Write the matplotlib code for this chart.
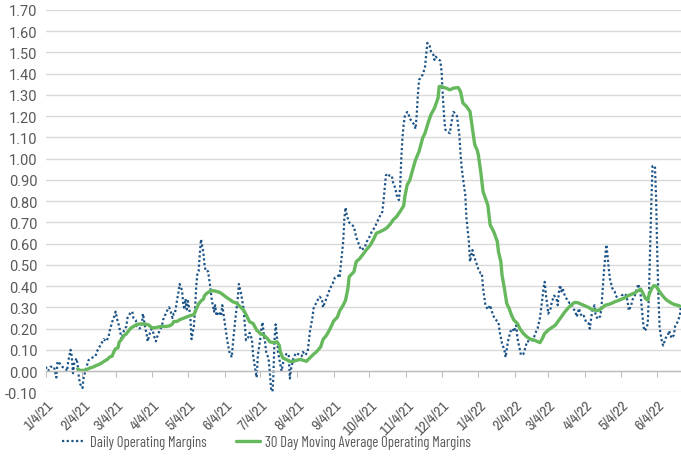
import numpy as np
import pandas as pd
import matplotlib
matplotlib.use("Agg")
import matplotlib.pyplot as plt

# series start (first trading day on the chart)
start = pd.Timestamp("2021-01-04")

# Daily operating margins: day offset from start, value
daily_day = [0, 2, 4, 7, 9, 10, 12, 14, 17, 18,
             19, 21, 22, 23, 24, 26, 27, 28, 29, 31,
             32, 34, 36, 38, 42, 43, 46, 49, 51, 53,
             54, 56, 58, 59, 60, 62, 63, 64, 66, 68,
             69, 71, 73, 74, 76, 77, 79, 81, 82, 83,
             84, 85, 86, 88, 90, 91, 93, 94, 96, 98,
             99, 102, 104, 105, 107, 108, 109, 111, 112, 113,
             115, 116, 117, 118, 119, 120, 122, 123, 125, 126,
             127, 128, 129, 130, 131, 133, 134, 135, 137, 139,
             140, 142, 143, 144, 146, 148, 149, 151, 153, 155,
             157, 158, 160, 162, 163,
             165, 167, 168, 169, 171, 172, 174, 175, 177, 178,
             179, 181, 182, 183, 184, 185, 186, 188, 189, 190,
             191, 192, 193, 194, 195, 196, 198, 199, 201, 203,
             205, 206, 207, 209, 211, 213, 216, 217, 219, 221,
             222, 223, 225, 226, 229, 231, 233, 234, 236, 238,
             240, 242, 244, 247, 248, 249, 251, 252, 253, 254,
             256, 258, 260, 262, 265, 266, 269, 271, 273, 275,
             278, 279, 282, 284, 285,
             286, 287, 288, 290, 292, 293, 295, 296, 298, 299,
             300, 301, 302, 303, 305, 306, 307, 309, 311, 312,
             313, 314, 315, 316, 318, 320, 321, 322, 324, 325,
             327, 328, 329, 331, 333, 334, 335, 336, 337, 338,
             341, 342, 344, 345, 347, 349, 350, 351, 352, 354,
             355, 357, 358, 359, 360, 361, 363, 365, 367, 368,
             369, 371, 373, 375, 377, 379, 382, 383, 385, 387,
             388, 390, 392, 394, 395, 397, 398, 400, 401, 403,
             405, 406, 408, 410, 412, 414, 415, 417, 418, 419,
             420, 421, 422, 423, 424, 426, 427, 429, 431, 432,
             433, 434, 435, 436, 438, 440, 442, 443, 445, 447,
             448, 450, 451, 453, 454, 456, 458, 459, 461, 463,
             464, 466, 468, 469, 470, 471, 472, 473, 474, 475,
             476, 478, 480, 481, 483, 485, 486, 488, 490, 491,
             492, 494, 495, 497, 499, 500, 502, 503, 504, 505,
             507, 508, 509, 510, 511, 512, 514, 515, 516, 517,
             518, 520, 521, 523, 525, 526, 528, 530, 531, 533,
             535, 536]
daily_val = [0.02, 0.00, 0.02, 0.02, -0.03, 0.045, 0.035, 0.02, 0.01, 0.00,
             0.045, 0.10, 0.07, -0.01, 0.035, 0.06, 0.03, -0.03, -0.06, -0.08,
             -0.03, 0.01, 0.05, 0.06, 0.07, 0.09, 0.12, 0.15, 0.14, 0.16,
             0.19, 0.23, 0.26, 0.28, 0.25, 0.21, 0.18, 0.15, 0.19, 0.21,
             0.25, 0.27, 0.28, 0.25, 0.24, 0.21, 0.20, 0.21, 0.27, 0.24,
             0.20, 0.18, 0.14, 0.18, 0.21, 0.17, 0.14, 0.16, 0.19, 0.21,
             0.24, 0.28, 0.30, 0.29, 0.25, 0.27, 0.27, 0.34, 0.37, 0.41,
             0.38, 0.32, 0.29, 0.34, 0.29, 0.33, 0.26, 0.15, 0.21, 0.29,
             0.40, 0.46, 0.47, 0.55, 0.62, 0.56, 0.50, 0.47, 0.47, 0.39,
             0.34, 0.28, 0.31, 0.26, 0.28, 0.26, 0.31, 0.23, 0.15, 0.09,
             0.065, 0.135, 0.245, 0.34, 0.41,
             0.36, 0.29, 0.22, 0.145, 0.16, 0.18, 0.15, 0.075, 0.00, -0.03,
             0.075, 0.15, 0.20, 0.23, 0.17, 0.14, 0.09, 0.06, 0.00, -0.075,
             -0.13, -0.035, 0.14, 0.22, 0.17, 0.09, 0.03, 0.00, 0.06, 0.08,
             0.08, -0.035, 0.01, 0.06, 0.085, 0.08, 0.07, 0.09, 0.075, 0.09,
             0.14, 0.19, 0.25, 0.295, 0.33, 0.35, 0.34, 0.30, 0.33, 0.36,
             0.39, 0.41, 0.44, 0.45, 0.44, 0.50, 0.61, 0.72, 0.77, 0.735,
             0.70, 0.69, 0.68, 0.63, 0.585, 0.57, 0.58, 0.61, 0.63, 0.655,
             0.68, 0.695, 0.73, 0.75, 0.80,
             0.86, 0.92, 0.93, 0.92, 0.92, 0.89, 0.86, 0.83, 0.805, 0.86,
             1.00, 1.10, 1.16, 1.20, 1.22, 1.215, 1.19, 1.175, 1.16, 1.14,
             1.205, 1.30, 1.37, 1.38, 1.395, 1.43, 1.49, 1.545, 1.53, 1.505,
             1.49, 1.465, 1.48, 1.47, 1.46, 1.41, 1.30, 1.21, 1.14, 1.13,
             1.12, 1.16, 1.22, 1.215, 1.20, 1.11, 1.02, 0.955, 0.91, 0.83,
             0.72, 0.61, 0.515, 0.545, 0.57, 0.545, 0.515, 0.48, 0.46, 0.46,
             0.39, 0.31, 0.29, 0.31, 0.27, 0.245, 0.23, 0.185, 0.13, 0.10,
             0.065, 0.14, 0.185, 0.20, 0.185, 0.215, 0.155, 0.10, 0.075, 0.08,
             0.115, 0.14, 0.14, 0.14, 0.16, 0.19, 0.20, 0.25, 0.295, 0.34,
             0.39, 0.42, 0.36, 0.32, 0.27, 0.295, 0.325, 0.355, 0.34, 0.31,
             0.375, 0.405, 0.375, 0.39, 0.355, 0.335, 0.32, 0.32, 0.295, 0.28,
             0.255, 0.295, 0.27, 0.255, 0.26, 0.23, 0.225, 0.20, 0.28, 0.31,
             0.26, 0.245, 0.26, 0.31, 0.39, 0.47, 0.53, 0.595, 0.545, 0.485,
             0.435, 0.39, 0.375, 0.355, 0.34, 0.325, 0.355, 0.365, 0.355, 0.325,
             0.285, 0.31, 0.335, 0.355, 0.39, 0.41, 0.355, 0.295, 0.23, 0.19,
             0.20, 0.23, 0.375, 0.58, 0.80, 0.965, 0.965, 0.815, 0.545, 0.34,
             0.20, 0.135, 0.12, 0.155, 0.17, 0.19, 0.155, 0.17, 0.21, 0.23,
             0.26, 0.31]

# 30 day moving average
ma_day = [27, 29, 32, 35, 37, 40, 43, 46, 49, 52,
          54, 56, 58, 59, 61, 62, 64, 66, 68, 70,
          72, 74, 77, 80, 82, 85, 87, 89, 91, 94,
          97, 99, 102, 105, 107, 108, 111, 113, 116, 119,
          122, 125, 126, 127, 129, 131, 133, 134, 136, 138,
          139, 142, 144, 147, 150, 153, 156, 158, 161, 164,
          167, 170, 172, 175, 178, 181, 184, 187, 189, 192,
          195, 197, 198, 200, 203, 206, 209, 212, 215, 217,
          220, 223, 226, 229, 232, 234, 237, 240, 243, 246,
          248, 251, 253, 255, 256, 260, 262, 265, 268, 271,
          274, 277, 279, 282, 285, 288, 291, 293, 296, 299,
          302, 303, 305, 307, 310, 312, 315, 318, 320, 323,
          325, 328, 331, 332, 334, 336, 338, 341, 344, 348,
          350, 352, 355, 358, 360, 362, 364, 365, 367, 369,
          371, 373, 375, 378, 381, 382, 384, 385, 387, 389,
          391, 393, 395, 398, 400, 403, 406, 409, 412, 414,
          417, 419, 421, 424, 427, 430, 432, 435, 438, 441,
          444, 446, 449, 452, 455, 458, 460, 463, 466, 469,
          472, 475, 477, 480, 483, 486, 489, 491, 494, 497,
          499, 502, 504, 506, 508, 509, 511, 513, 515, 517,
          520, 522, 524, 527, 530, 533, 535]
ma_val = [0.01, 0.003, 0.003, 0.008, 0.014, 0.019, 0.027, 0.034, 0.045, 0.055,
          0.066, 0.07, 0.097, 0.105, 0.11, 0.136, 0.15, 0.167, 0.175, 0.19,
          0.203, 0.21, 0.22, 0.222, 0.222, 0.22, 0.217, 0.206, 0.203, 0.206,
          0.21, 0.21, 0.21, 0.214, 0.222, 0.233, 0.234, 0.242, 0.248, 0.255,
          0.261, 0.266, 0.277, 0.292, 0.316, 0.33, 0.339, 0.355, 0.367, 0.373,
          0.378, 0.378, 0.375, 0.37, 0.358, 0.345, 0.334, 0.326, 0.32, 0.303,
          0.287, 0.255, 0.232, 0.224, 0.193, 0.177, 0.169, 0.153, 0.138, 0.134,
          0.138, 0.122, 0.09, 0.062, 0.054, 0.045, 0.046, 0.051, 0.055, 0.051,
          0.046, 0.063, 0.079, 0.094, 0.114, 0.149, 0.169, 0.2, 0.236, 0.253,
          0.283, 0.31, 0.334, 0.39, 0.444, 0.467, 0.515, 0.53, 0.552, 0.574,
          0.594, 0.625, 0.649, 0.656, 0.664, 0.675, 0.694, 0.711, 0.727, 0.751,
          0.778, 0.822, 0.877, 0.896, 0.955, 0.994, 1.034, 1.097, 1.12, 1.175,
          1.207, 1.238, 1.285, 1.34, 1.34, 1.335, 1.332, 1.324, 1.332, 1.335,
          1.316, 1.262, 1.246, 1.222, 1.144, 1.065, 1.041, 1.018, 0.94, 0.845,
          0.814, 0.782, 0.688, 0.656, 0.61, 0.562, 0.515, 0.452, 0.389, 0.318,
          0.295, 0.263, 0.24, 0.224, 0.2, 0.177, 0.161, 0.15, 0.146, 0.141,
          0.134, 0.153, 0.177, 0.193, 0.205, 0.216, 0.232, 0.255, 0.279, 0.298,
          0.314, 0.323, 0.322, 0.314, 0.307, 0.3, 0.292, 0.287, 0.285, 0.295,
          0.31, 0.314, 0.318, 0.326, 0.332, 0.339, 0.346, 0.354, 0.361, 0.368,
          0.376, 0.386, 0.365, 0.342, 0.334, 0.358, 0.386, 0.402, 0.4, 0.381,
          0.358, 0.345, 0.334, 0.323, 0.314, 0.31, 0.306]

tick_labels = ["1/4/21", "2/4/21", "3/4/21", "4/4/21", "5/4/21", "6/4/21",
               "7/4/21", "8/4/21", "9/4/21", "10/4/21", "11/4/21", "12/4/21",
               "1/4/22", "2/4/22", "3/4/22", "4/4/22", "5/4/22", "6/4/22"]
y_ticks = np.round(np.arange(-1, 18) / 10, 2)

series_names = ["Daily Operating Margins",
                "30 Day Moving Average Operating Margins"]

daily_dates = start + pd.to_timedelta(daily_day, unit="D")
ma_dates = start + pd.to_timedelta(ma_day, unit="D")
tick_dates = pd.to_datetime(tick_labels, format="%m/%d/%y")

# digits are wide in the original, letters condensed
plt.rcParams['font.family'] = ['Roboto', 'DejaVu Sans']
narrow = ['Archivo Narrow', 'DejaVu Sans']
legend_font = {'family': ['Barlow Condensed', 'DejaVu Sans'], 'size': 10.5}
txt_color = '#595959'

fig = plt.figure(figsize=(6.81, 4.60), dpi=100)
ax = fig.add_axes([45.7 / 681, 1 - 393.3 / 460, 1 - 45.7 / 681, (393.3 - 11) / 460])

# axis line sits at zero, set it before the tick labels (it resets ticks)
for s in ['left', 'right', 'top']:
    ax.spines[s].set_visible(False)
ax.spines['bottom'].set_position(('data', 0))
ax.spines['bottom'].set_color('#bfbfbf')
ax.spines['bottom'].set_linewidth(1)

l1, = ax.plot(daily_dates, daily_val, color='#1d5487', lw=1.6,
              linestyle=(0, (1, 1.1)), label=series_names[0])
l2, = ax.plot(ma_dates, ma_val, color='#66b85c', lw=2.4,
              solid_capstyle='round', label=series_names[1])

ax.set_ylim(-0.1, 1.7)
ax.set_yticks(y_ticks)
ax.set_yticklabels([f"{v:.2f}" for v in y_ticks], fontsize=10.5, color=txt_color)
ax.set_xlim(start, daily_dates[-1])
ax.set_xticks(tick_dates)
ax.set_xticklabels(tick_labels, rotation=45, ha='right', rotation_mode='anchor',
                   fontsize=11, family=narrow, color=txt_color)

ax.grid(axis='y', color='#d9d9d9', linewidth=1)
ax.set_axisbelow(True)
ax.tick_params(axis='y', length=0, pad=6)
ax.tick_params(axis='x', length=4, color='#bfbfbf', pad=15)

fig.legend(handles=[l1, l2], labels=series_names, loc='center left',
           bbox_to_anchor=(62 / 681, 1 - 443 / 460), ncol=2, frameon=False,
           handlelength=1.6, handletextpad=0.35, columnspacing=2.0,
           prop=legend_font, labelcolor=txt_color, borderpad=0, borderaxespad=0)

fig.savefig("out.png", dpi=100)
